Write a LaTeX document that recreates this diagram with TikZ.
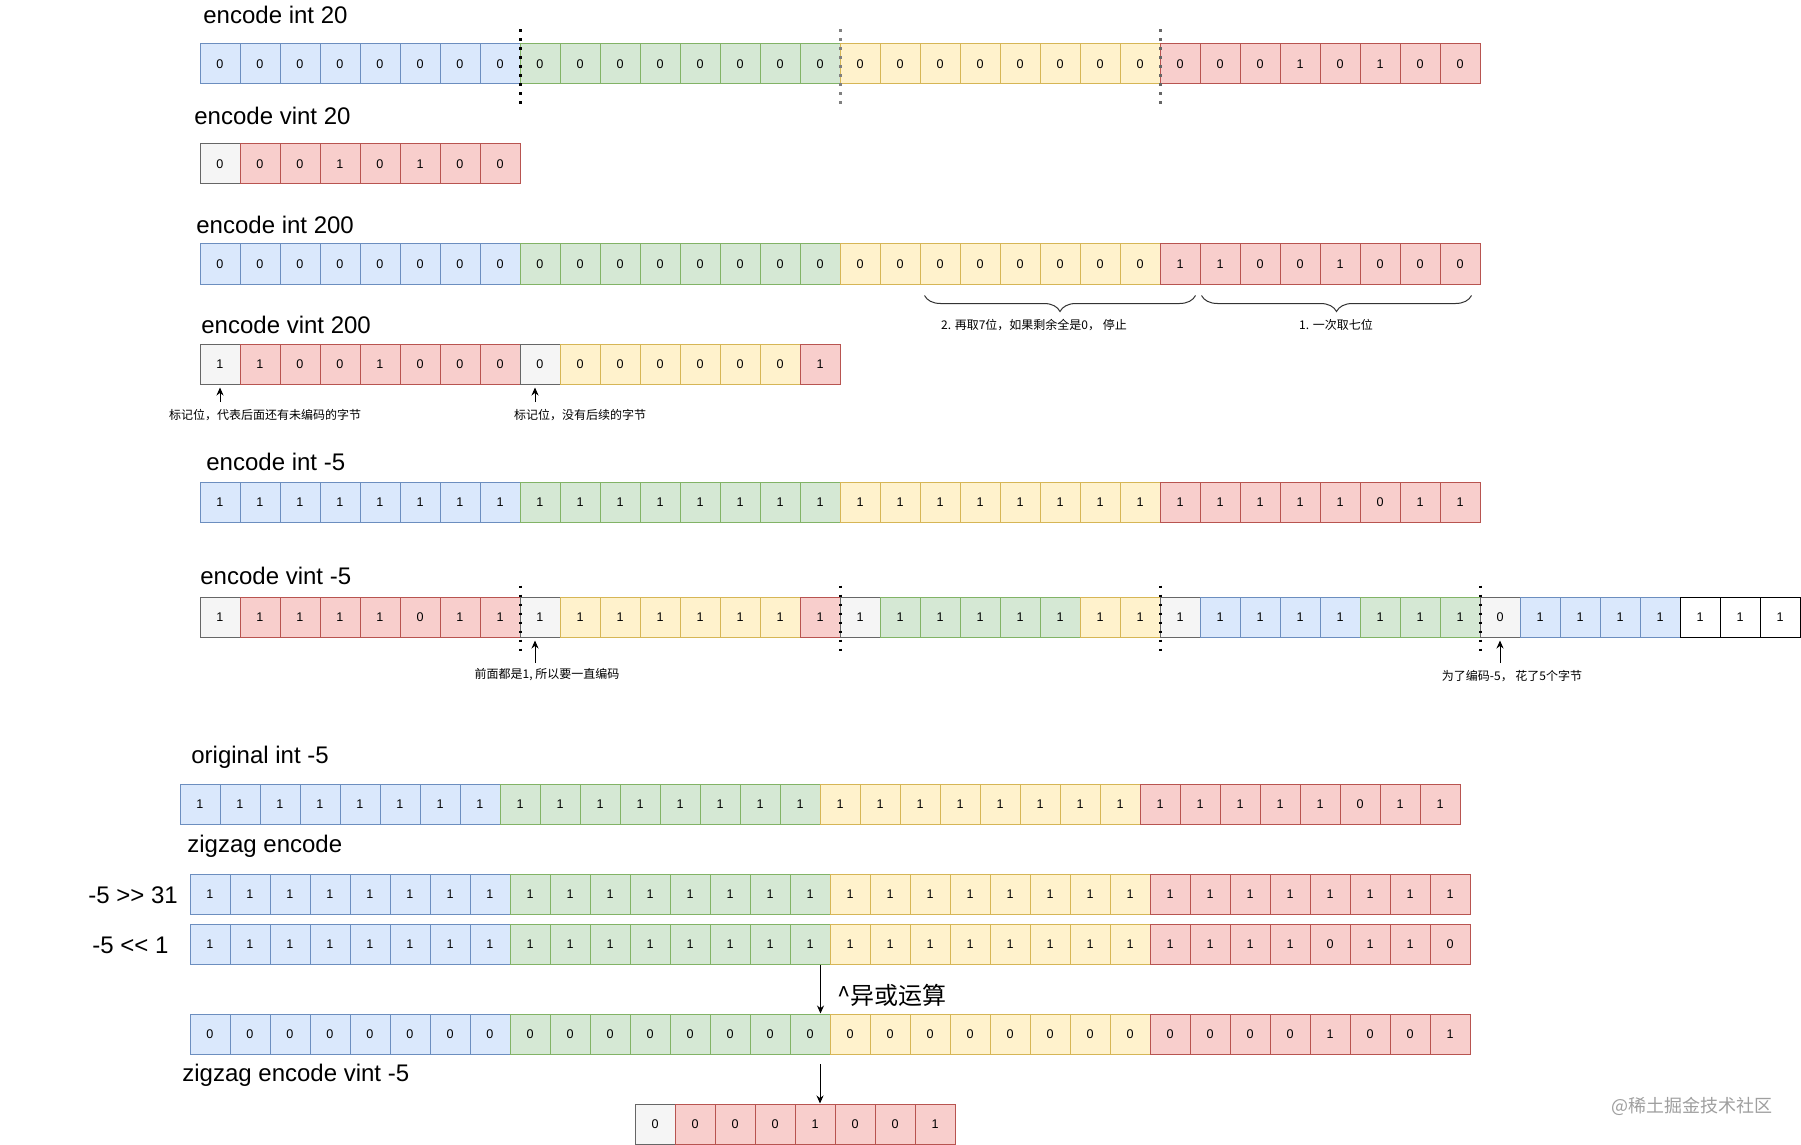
\documentclass[tikz,border=0pt]{standalone}
\usepackage{fontspec}
\setmainfont{Liberation Sans}
\newfontfamily\cjk{Noto Sans CJK SC}
\usetikzlibrary{arrows.meta,decorations.pathreplacing}
\definecolor{bfill}{HTML}{DAE8FC}\definecolor{bline}{HTML}{6C8EBF}
\definecolor{gfill}{HTML}{D5E8D4}\definecolor{gline}{HTML}{82B366}
\definecolor{yfill}{HTML}{FFF2CC}\definecolor{yline}{HTML}{D6B656}
\definecolor{rfill}{HTML}{F8CECC}\definecolor{rline}{HTML}{B85450}
\definecolor{kfill}{HTML}{F5F5F5}\definecolor{kline}{HTML}{666666}
\newcommand\bitrow[4]{%
  \foreach \s/\v [count=\i from 0] in {#4}{%
    \node[cell,\s] (#1-\i) at ({#2+20+40*\i},{#3+20}) {\v};
  }%
}
\begin{document}
\begin{tikzpicture}[x=0.5pt,y=-0.5pt,
  cell/.style={draw, minimum width=20pt, minimum height=20pt, inner sep=0pt, line width=0.5pt, font=\fontsize{6.3}{7}\selectfont},
  bb/.style={fill=bfill, draw=bline},
  gg/.style={fill=gfill, draw=gline},
  yy/.style={fill=yfill, draw=yline},
  rr/.style={fill=rfill, draw=rline},
  kk/.style={fill=kfill, draw=kline},
  ww/.style={fill=white, draw=black},
  title/.style={anchor=west, inner sep=0pt, font=\fontsize{12}{14}\selectfont},
  note/.style={inner sep=0pt, font=\cjk\fontsize{6}{7}\selectfont},
  arr/.style={-{Stealth[length=4pt,width=3.5pt]}, line width=0.5pt},
  sep/.style={line width=1.1pt, dash pattern=on 1.1pt off 3.4pt},
  brc/.style={decorate, decoration={brace, mirror, amplitude=8pt}, line width=0.5pt, draw=black!80}
]
\fill[white] (0,0) rectangle (1801,1145);
\useasboundingbox (0,0) rectangle (1801,1145);

% ---- encode int 20
\node[title] (t1) at (203,15) {encode int 20};
\bitrow{r1}{200}{44}{bb/0,bb/0,bb/0,bb/0,bb/0,bb/0,bb/0,bb/0,gg/0,gg/0,gg/0,gg/0,gg/0,gg/0,gg/0,gg/0,yy/0,yy/0,yy/0,yy/0,yy/0,yy/0,yy/0,yy/0,rr/0,rr/0,rr/0,rr/1,rr/0,rr/1,rr/0,rr/0}
\draw[sep] ([yshift=7pt]r1-7.north east) -- ([yshift=-10pt]r1-7.south east);
\draw[sep,gray] ([yshift=7pt]r1-15.north east) -- ([yshift=-10pt]r1-15.south east);
\draw[sep,gray!80!black] ([yshift=7pt]r1-23.north east) -- ([yshift=-10pt]r1-23.south east);

% ---- encode vint 20
\node[title] (t2) at (194,116) {encode vint 20};
\bitrow{r2}{200}{144}{kk/0,rr/0,rr/0,rr/1,rr/0,rr/1,rr/0,rr/0}

% ---- encode int 200
\node[title] (t3) at (196,225) {encode int 200};
\bitrow{r3}{200}{244}{bb/0,bb/0,bb/0,bb/0,bb/0,bb/0,bb/0,bb/0,gg/0,gg/0,gg/0,gg/0,gg/0,gg/0,gg/0,gg/0,yy/0,yy/0,yy/0,yy/0,yy/0,yy/0,yy/0,yy/0,rr/1,rr/1,rr/0,rr/0,rr/1,rr/0,rr/0,rr/0}
\draw[brc] ([xshift=2.5pt,yshift=-5.5pt]r3-18.south west) -- ([xshift=-2.5pt,yshift=-5.5pt]r3-24.south east);
\draw[brc] ([xshift=1pt,yshift=-5.5pt]r3-25.south west) -- ([xshift=-4.5pt,yshift=-5.5pt]r3-31.south east);
\node[note] (b2) at (1034,325) {2. 再取7位，如果剩余全是0， 停止};
\node[note] (b1) at (1336,325) {1. 一次取七位};

% ---- encode vint 200
\node[title] (t4) at (201,325) {encode vint 200};
\bitrow{r4}{200}{344}{kk/1,rr/1,rr/0,rr/0,rr/1,rr/0,rr/0,rr/0,kk/0,yy/0,yy/0,yy/0,yy/0,yy/0,yy/0,rr/1}
\coordinate (a1) at (220,402);
\coordinate (a2) at (535,402);
\draw[arr] (a1) -- ([yshift=-1.5pt]a1 |- r4-0.south);
\draw[arr] (a2) -- ([yshift=-1.5pt]a2 |- r4-8.south);
\node[note] (n1) at (265,415) {标记位，代表后面还有未编码的字节};
\node[note] (n2) at (580,415) {标记位，没有后续的字节};

% ---- encode int -5
\node[title] (t5) at (206,462) {encode int -5};
\bitrow{r5}{200}{482}{bb/1,bb/1,bb/1,bb/1,bb/1,bb/1,bb/1,bb/1,gg/1,gg/1,gg/1,gg/1,gg/1,gg/1,gg/1,gg/1,yy/1,yy/1,yy/1,yy/1,yy/1,yy/1,yy/1,yy/1,rr/1,rr/1,rr/1,rr/1,rr/1,rr/0,rr/1,rr/1}

% ---- encode vint -5
\node[title] (t6) at (200,576) {encode vint -5};
\bitrow{r6}{200}{597}{kk/1,rr/1,rr/1,rr/1,rr/1,rr/0,rr/1,rr/1,kk/1,yy/1,yy/1,yy/1,yy/1,yy/1,yy/1,rr/1,kk/1,gg/1,gg/1,gg/1,gg/1,gg/1,yy/1,yy/1,kk/1,bb/1,bb/1,bb/1,bb/1,gg/1,gg/1,gg/1,kk/0,bb/1,bb/1,bb/1,bb/1,ww/1,ww/1,ww/1}
\foreach \k in {7,15,23,31}{
  \draw[sep] ([yshift=5.5pt]r6-\k.north east) -- ([yshift=-7pt]r6-\k.south east);
}
\coordinate (a3) at (535,663);
\coordinate (a4) at (1500,663);
\draw[arr] (a3) -- ([yshift=-1.5pt]a3 |- r6-8.south);
\draw[arr] (a4) -- ([yshift=-1.5pt]a4 |- r6-32.south);
\node[note] (n3) at (547,675) {前面都是1, 所以要一直编码};
\node[note] (n4) at (1512,676) {为了编码-5， 花了5个字节};

% ---- original int -5
\node[title] (t7) at (191,757) {original int -5};
\bitrow{r7}{180}{784}{bb/1,bb/1,bb/1,bb/1,bb/1,bb/1,bb/1,bb/1,gg/1,gg/1,gg/1,gg/1,gg/1,gg/1,gg/1,gg/1,yy/1,yy/1,yy/1,yy/1,yy/1,yy/1,yy/1,yy/1,rr/1,rr/1,rr/1,rr/1,rr/1,rr/0,rr/1,rr/1}

% ---- zigzag encode
\node[title] (t8) at (187,846) {zigzag encode};
\node[title] (l8) at (88,895) {-5 >\kern0pt> 31};
\bitrow{r8}{190}{874}{bb/1,bb/1,bb/1,bb/1,bb/1,bb/1,bb/1,bb/1,gg/1,gg/1,gg/1,gg/1,gg/1,gg/1,gg/1,gg/1,yy/1,yy/1,yy/1,yy/1,yy/1,yy/1,yy/1,yy/1,rr/1,rr/1,rr/1,rr/1,rr/1,rr/1,rr/1,rr/1}
\node[title] (l9) at (92,945) {-5 <\kern0pt< 1};
\bitrow{r9}{190}{924}{bb/1,bb/1,bb/1,bb/1,bb/1,bb/1,bb/1,bb/1,gg/1,gg/1,gg/1,gg/1,gg/1,gg/1,gg/1,gg/1,yy/1,yy/1,yy/1,yy/1,yy/1,yy/1,yy/1,yy/1,rr/1,rr/1,rr/1,rr/1,rr/0,rr/1,rr/1,rr/0}
\node[title,font=\cjk\fontsize{12}{14}\selectfont] (xor) at (837,995) {\^{}异或运算};
\bitrow{r10}{190}{1014}{bb/0,bb/0,bb/0,bb/0,bb/0,bb/0,bb/0,bb/0,gg/0,gg/0,gg/0,gg/0,gg/0,gg/0,gg/0,gg/0,yy/0,yy/0,yy/0,yy/0,yy/0,yy/0,yy/0,yy/0,rr/0,rr/0,rr/0,rr/0,rr/1,rr/0,rr/0,rr/1}
\draw[arr] ([xshift=-5pt]r9-15.south east) -- ([xshift=-5pt]r10-15.north east);

% ---- zigzag encode vint -5
\node[title] (t11) at (182,1075) {zigzag encode vint -5};
\bitrow{r11}{635}{1104}{kk/0,rr/0,rr/0,rr/0,rr/1,rr/0,rr/0,rr/1}
\coordinate (a5) at (820,1064);
\draw[arr] (a5) -- (a5 |- r11-4.north);

\node[inner sep=0pt, text=gray!75, font=\cjk\fontsize{9}{10}\selectfont] (wm) at (1692,1106) {@稀土掘金技术社区};
\end{tikzpicture}
\end{document}
